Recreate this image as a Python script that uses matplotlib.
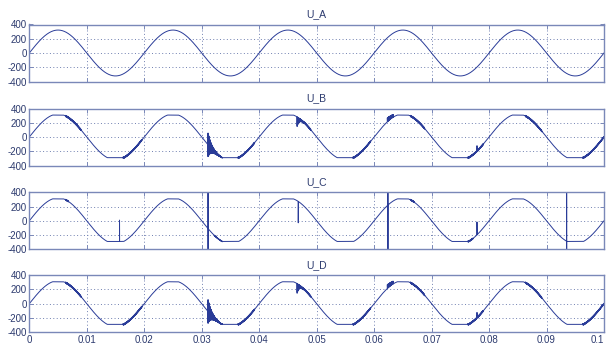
import numpy as np
import matplotlib
matplotlib.use("Agg")
import matplotlib.pyplot as plt

# ---------------- data ----------------
titles = ["U_A", "U_B", "U_C", "U_D"]
x_ticks = [0, 0.01, 0.02, 0.03, 0.04, 0.05, 0.06, 0.07, 0.08, 0.09, 0.1]
x_tick_labels = ["0", "0.01", "0.02", "0.03", "0.04", "0.05", "0.06", "0.07", "0.08", "0.09", "0.1"]
y_ticks = [-400, -200, 0, 200, 400]
y_tick_labels = ["-400", "-200", "0", "200", "400"]

sine_amp = 322.0          # peak voltage of the supply
sine_freq = 50.0          # Hz
t_end = 0.1
sample_rate = 400000      # samples per second

# clipping levels (flat tops) of the distorted phases
clip_levels = {"U_A": (None, None), "U_B": (308, -290), "U_C": (308, -290), "U_D": (308, -290)}

# high-frequency ripple segments (thick dark stretches of the trace)
ripple_start_BD = [0.0063, 0.0163, 0.0363, 0.0470, 0.0563, 0.0663, 0.0763, 0.0863, 0.0963]
ripple_end_BD   = [0.0090, 0.0196, 0.0392, 0.0490, 0.0594, 0.0688, 0.0790, 0.0892, 0.1000]
ripple_amp_BD   = [9, 9, 9, 9, 9, 9, 9, 9, 9]

ripple_start_C = [0.0063, 0.0322, 0.0663, 0.0763]
ripple_end_C   = [0.0068, 0.0336, 0.0670, 0.0772]
ripple_amp_C   = [7, 4, 7, 7]

# transients: time, amplitude, decay constant, duration, kind
trans_t_BD    = [0.0311, 0.0466, 0.0623, 0.0779]
trans_amp_BD  = [165, -135, 55, 75]
trans_tau_BD  = [0.0006, 0.0004, 0.0030, 0.00005]
trans_dur_BD  = [0.0025, 0.0012, 0.0010, 0.0002]
trans_kind_BD = ["osc", "one", "one", "one"]

trans_t_C    = [0.0157, 0.0311, 0.0468, 0.0624, 0.0779, 0.0935]
trans_amp_C  = [300, 3000, -300, 3000, 180, 3000]
trans_tau_C  = [0.00002, 0.00002, 0.00002, 0.00002, 0.00002, 0.00002]
trans_dur_C  = [0.000001, 0.000003, 0.000001, 0.000003, 0.000001, 0.000003]
trans_kind_C = ["one", "osc", "one", "osc", "one", "osc"]


def build_signal(t, clip, r_start, r_end, r_amp, tr_t, tr_amp, tr_tau, tr_dur, tr_kind):
    y = sine_amp * np.sin(2 * np.pi * sine_freq * t)
    hi, lo = clip
    if hi is not None:
        y = np.clip(y, lo, hi)
    for s, e, a in zip(r_start, r_end, r_amp):
        m = (t >= s) & (t <= e)
        y[m] += a * np.sin(2 * np.pi * 20000 * t[m])
    for t0, a, tau, d, k in zip(tr_t, tr_amp, tr_tau, tr_dur, tr_kind):
        m = (t >= t0 - 1e-9) & (t <= t0 + d + 1e-9)
        env = np.exp(-(t[m] - t0) / tau)
        if k == "osc":
            y[m] += a * env * np.where(np.arange(m.sum()) % 2 == 0, 1, -1)
        else:
            y[m] += a * env * (0.5 + 0.5 * np.cos(2 * np.pi * 20000 * (t[m] - t0)))
    return y


t = np.linspace(0, t_end, int(t_end * sample_rate) + 1)
signals = {
    "U_A": build_signal(t, clip_levels["U_A"], [], [], [], [], [], [], [], []),
    "U_B": build_signal(t, clip_levels["U_B"], ripple_start_BD, ripple_end_BD, ripple_amp_BD,
                        trans_t_BD, trans_amp_BD, trans_tau_BD, trans_dur_BD, trans_kind_BD),
    "U_C": build_signal(t, clip_levels["U_C"], ripple_start_C, ripple_end_C, ripple_amp_C,
                        trans_t_C, trans_amp_C, trans_tau_C, trans_dur_C, trans_kind_C),
    "U_D": build_signal(t, clip_levels["U_D"], ripple_start_BD, ripple_end_BD, ripple_amp_BD,
                        trans_t_BD, trans_amp_BD, trans_tau_BD, trans_dur_BD, trans_kind_BD),
}

# ---------------- drawing ----------------
plt.rcParams["font.family"] = ["Liberation Sans", "DejaVu Sans"]
W, H = 607, 345
fig = plt.figure(figsize=(W / 100, H / 100), dpi=100)
fig.patch.set_facecolor("white")

text_col = "#2c3a6e"
box_col = "#7a88b8"
grid_col = "#6f7fb0"
line_col = "#2a3c98"

left_px, right_px = 29.3, 604.0
tops_px = [24.5, 108.5, 192.3, 275.2]
h_px = 57.0

for i, name in enumerate(titles):
    top = tops_px[i]
    ax = fig.add_axes([left_px / W, 1 - (top + h_px) / H, (right_px - left_px) / W, h_px / H])
    ax.plot(t, signals[name], color=line_col, lw=0.7)
    ax.set_xlim(0, t_end)
    ax.set_ylim(-400, 400)
    ax.set_xticks(x_ticks)
    ax.set_yticks(y_ticks)
    ax.set_yticklabels(y_tick_labels)
    if i == len(titles) - 1:
        ax.set_xticklabels(x_tick_labels)
        ax.get_xticklabels()[-1].set_horizontalalignment("right")
    else:
        ax.set_xticklabels([])
    ax.grid(True, linestyle=(0, (1, 2.5)), color=grid_col, lw=0.7)
    ax.tick_params(direction="in", length=3, width=0.7, colors=box_col,
                   labelcolor=text_col, labelsize=7, top=True, right=True, pad=2)
    for sp in ax.spines.values():
        sp.set_color(box_col)
        sp.set_linewidth(1.0)
    ax.set_title(name, fontsize=7.5, color=text_col, pad=5)

fig.savefig("out.png", dpi=100, facecolor="white")
